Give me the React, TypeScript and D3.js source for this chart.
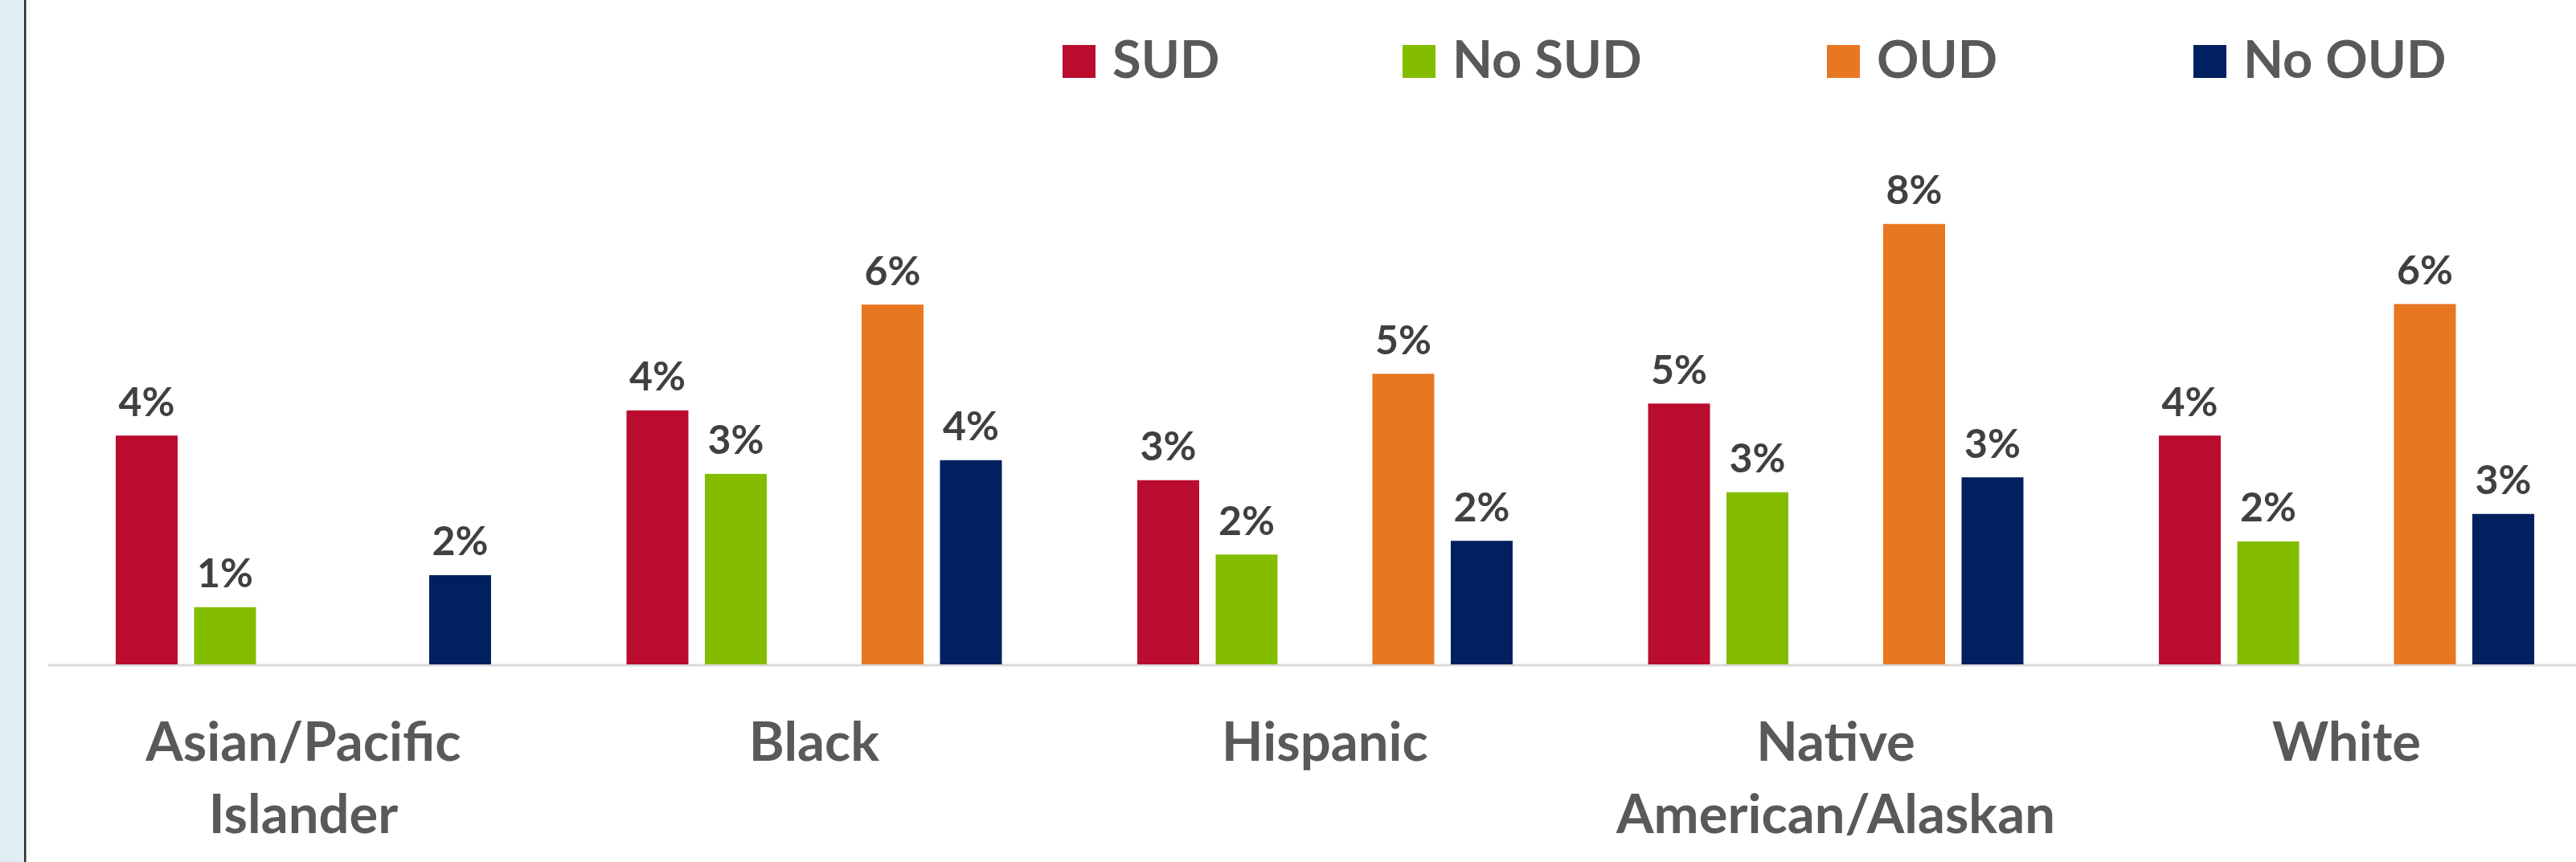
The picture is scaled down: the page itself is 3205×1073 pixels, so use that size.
import React from "react";
import * as d3 from "d3";

const categories = ["Asian/Pacific Islander", "Black", "Hispanic", "Native American/Alaskan", "White"];
const categoryLines = [["Asian/Pacific", "Islander"], ["Black"], ["Hispanic"], ["Native", "American/Alaskan"], ["White"]];
const seriesNames = ["SUD", "No SUD", "OUD", "No OUD"];
const seriesColors = ["#BA0C2F", "#84BD00", "#E87722", "#002060"];
// slot order inside each group (an empty slot sits between the SUD pair and the OUD pair)
const slotKeys = ["SUD", "No SUD", "gap", "OUD", "No OUD"];

// values in percent
const sudValues = [4.0, 4.44, 3.22, 4.56, 4.0];
const noSudValues = [1.0, 3.33, 1.92, 3.01, 2.15];
const oudValues: (number | null)[] = [null, 6.29, 5.08, 7.7, 6.3];
const noOudValues = [1.56, 3.57, 2.16, 3.27, 2.63];

const seriesValues = [sudValues, noSudValues, oudValues, noOudValues];

const W = 3205;
const H = 1073;
const FONT = "Lato, 'Open Sans', sans-serif";

export default function App() {
  const x0 = d3
    .scaleBand<string>()
    .domain(categories)
    .range([59.75, 3237.25])
    .paddingInner(0.2329)
    .paddingOuter(0.1164);
  const x1 = d3
    .scaleBand<string>()
    .domain(slotKeys)
    .range([0, x0.bandwidth()])
    .paddingInner(0.2103)
    .paddingOuter(0.10515);
  const y = d3.scaleLinear().domain([0, 9]).range([827, 186.2]);
  const fmt = (v: number) => d3.format(".0f")(v) + "%";

  const legendX = [1322, 1745, 2273, 2729];

  return (
    <svg
      width={W}
      height={H}
      style={{ position: "absolute", left: 0, top: 0, background: "#fff" }}
      fontFamily={FONT}
    >
      <rect x={0} y={0} width={W} height={H} fill="#ffffff" />
      <rect x={0} y={0} width={30} height={H} fill="#DFEEF4" />
      <rect x={30} y={0} width={2.5} height={H} fill="#2b2b2b" />

      {/* legend */}
      {seriesNames.map((name, i) => (
        <g key={name}>
          <rect x={legendX[i]} y={56} width={41} height={41} fill={seriesColors[i]} />
          <text x={legendX[i] + 62} y={97} fontSize={65} fontWeight={700} fill="#595959">
            {name}
          </text>
        </g>
      ))}

      {/* axis baseline */}
      <line x1={59.75} x2={W} y1={y(0) + 1} y2={y(0) + 1} stroke="#D9D9D9" strokeWidth={3} />

      {/* bars */}
      {categories.map((cat, ci) => (
        <g key={cat} transform={`translate(${x0(cat)},0)`}>
          {seriesNames.map((s, si) => {
            const v = seriesValues[si][ci];
            if (v == null) return null;
            const bx = x1(s) as number;
            const bw = x1.bandwidth();
            return (
              <g key={s}>
                <rect x={bx} y={y(v)} width={bw} height={y(0) - y(v)} fill={seriesColors[si]} />
                <text
                  x={bx + bw / 2}
                  y={y(v) - 24.5}
                  textAnchor="middle"
                  fontSize={50}
                  fontWeight={700}
                  fill="#404040"
                >
                  {fmt(v)}
                </text>
              </g>
            );
          })}
        </g>
      ))}

      {/* category labels */}
      {categories.map((cat, ci) => (
        <text
          key={cat}
          x={(x0(cat) as number) + x0.bandwidth() / 2}
          y={947}
          textAnchor="middle"
          fontSize={67}
          fontWeight={700}
          fill="#595959"
        >
          {categoryLines[ci].map((line, li) => (
            <tspan key={li} x={(x0(cat) as number) + x0.bandwidth() / 2} dy={li === 0 ? 0 : 90}>
              {line}
            </tspan>
          ))}
        </text>
      ))}
    </svg>
  );
}
